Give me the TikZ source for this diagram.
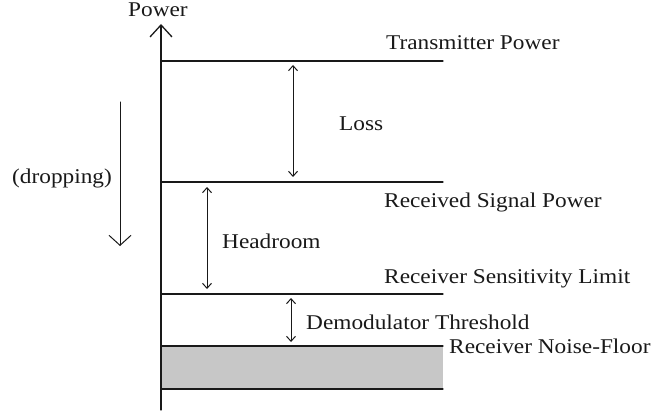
\documentclass[tikz,border=0pt]{standalone}
\usepackage{fontspec}
\setmainfont{Liberation Serif}[FakeStretch=1.11]
\usetikzlibrary{arrows.meta}
\begin{document}
\begin{tikzpicture}[yscale=-1, x=1pt, y=1pt, line join=round, line cap=round]
% Colour definitions
\definecolor{ink}{rgb}{0.1,0.1,0.1}
\definecolor{floorgray}{rgb}{0.78,0.78,0.78}
% End of colour definitions
\tikzset{
  level/.style={color=ink, line width=1.3pt},
  gap/.style={color=ink, line width=1pt, {Straight Barb[length=5pt,width=9pt]}-{Straight Barb[length=5pt,width=9pt]}},
  tag/.style={anchor=base west, inner sep=0pt, color=ink, font=\fontsize{21}{24}\selectfont}
}
\useasboundingbox (0,0) rectangle (655,414);
% Noise floor band
\fill[color=floorgray] (161,346) rectangle (443,389);
% Power axis
\coordinate (axis bottom) at (161,410);
\coordinate (axis top) at (161,24);
\draw[color=ink, line width=1.3pt, -{Straight Barb[length=12pt,width=22pt]}] (axis bottom) -- (axis top);
\node[tag] (power) at (128,17) {Power};
% Power levels
\coordinate (tx left) at (161,61);      \coordinate (tx right) at (443,61);
\coordinate (rx left) at (161,182);     \coordinate (rx right) at (443,182);
\coordinate (sens left) at (161,294);   \coordinate (sens right) at (443,294);
\coordinate (nf left) at (161,346);     \coordinate (nf right) at (443,346);
\coordinate (base left) at (161,389);   \coordinate (base right) at (443,389);
\draw[level] (tx left) -- (tx right);
\draw[level] (rx left) -- (rx right);
\draw[level] (sens left) -- (sens right);
\draw[level] (nf left) -- (nf right);
\draw[level] (base left) -- (base right);
\node[tag] (tx) at (386,50) {Transmitter Power};
\node[tag] (rx) at (384,207) {Received Signal Power};
\node[tag] (sens) at (384,283) {Receiver Sensitivity Limit};
\node[tag] (nf) at (449,353) {Receiver Noise-Floor};
% Margins between levels
\coordinate (loss top) at (293,65);     \coordinate (loss bottom) at (293,177);
\coordinate (head top) at (207,187);    \coordinate (head bottom) at (207,289);
\coordinate (demod top) at (291,298);   \coordinate (demod bottom) at (291,342);
\draw[gap] (loss top) -- (loss bottom);
\draw[gap] (head top) -- (head bottom);
\draw[gap] (demod top) -- (demod bottom);
\node[tag] (loss) at (339,131) {Loss};
\node[tag] (headroom) at (222,248) {Headroom};
\node[tag] (demod) at (306,329) {Demodulator Threshold};
% Direction of travel
\coordinate (drop top) at (120,102);
\coordinate (drop bottom) at (120,246);
\draw[color=ink, line width=1pt, -{Straight Barb[length=10pt,width=22pt]}] (drop top) -- (drop bottom);
\node[tag] (dropping) at (12,183) {(dropping)};
\end{tikzpicture}
\end{document}
